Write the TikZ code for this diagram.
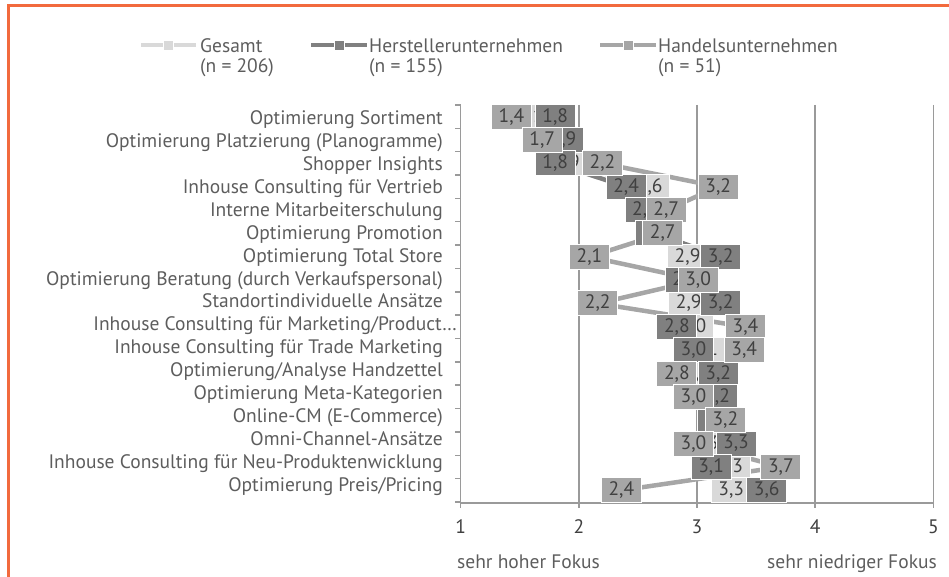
\documentclass[tikz,border=0pt]{standalone}
\usepackage{fontspec}
\setmainfont{PT Sans}
\usetikzlibrary{positioning}

\definecolor{gesamtgray}{HTML}{D9D9D9}
\definecolor{herstgray}{HTML}{808080}
\definecolor{handelgray}{HTML}{A6A6A6}
\definecolor{axisgray}{HTML}{9A9A9A}
\definecolor{textgray}{HTML}{404040}
\definecolor{frameorange}{HTML}{F26A3D}

% Zeile / Gesamt / Hersteller / Handel
\newcommand{\fokusdata}{1/1.72/1.80/1.43, 2/1.80/1.87/1.69, 3/1.90/1.80/2.20,
  4/2.60/2.40/3.18, 5/2.70/2.56/2.74, 6/2.70/2.65/2.71, 7/2.92/3.20/2.09,
  8/2.98/2.90/3.01, 9/2.93/3.20/2.16, 10/2.97/2.83/3.41, 11/3.07/2.97/3.40,
  12/3.00/3.18/2.83, 13/3.10/3.17/2.97, 14/3.20/3.17/3.24, 15/3.20/3.33/2.97,
  16/3.28/3.12/3.71, 17/3.29/3.59/2.36}

\tikzset{
  chartfont/.style={font=\fontsize{19.5}{22}\selectfont},
  vlabel/.style={chartfont, draw=white, line width=1pt, minimum width=40pt,
    minimum height=25pt, inner sep=0pt, text=textgray},
  sline/.style={line width=4.5pt, line join=round},
  axisline/.style={axisgray, line width=1.5pt},
  catlabel/.style={chartfont, text=textgray!85, anchor=base east, inner sep=0pt},
  legtext/.style={chartfont, text=textgray!85, anchor=base west, inner sep=0pt},
  legmark/.style={draw=white, line width=0.8pt, minimum size=10pt, inner sep=0pt}
}
\pgfkeys{/pgf/number format/.cd, fixed, fixed zerofill, precision=1, use comma,
  assume math mode=true}

\begin{document}
\begin{tikzpicture}[x=1pt, y=-1pt]
\useasboundingbox (0,0) rectangle (949,577);
% Rahmen
\draw[frameorange, line width=3pt] (949,5.5) -- (8.5,5.5) -- (8.5,577);

% Legende
\draw[sline, gesamtgray] (141,45) -- (196,45);
\node[legmark, fill=gesamtgray] (gmark) at (168.5,45) {};
\node[legtext] (gesamt) at (200,52.7) {Gesamt};
\node[legtext] (gesamtn) at ([yshift=-20pt]gesamt.base west) {(n = 206)};
\draw[sline, herstgray] (311,45) -- (367,45);
\node[legmark, fill=herstgray] (hmark) at (339,45) {};
\node[legtext] (herst) at (369,52.7) {Herstellerunternehmen};
\node[legtext] (herstn) at ([yshift=-20pt]herst.base west) {(n = 155)};
\draw[sline, handelgray] (600,45) -- (656,45);
\node[legmark, fill=handelgray] (dmark) at (628,45) {};
\node[legtext] (handel) at (658,52.7) {Handelsunternehmen};
\node[legtext] (handeln) at ([yshift=-20pt]handel.base west) {(n = 51)};

% Achsen und Gitter
\foreach \v in {2,...,5}
  \draw[axisline] ({460.7+(\v-1)*118.15},105) -- ({460.7+(\v-1)*118.15},503);
\draw[axisline] (460.7,105) -- (460.7,503) -- (933.3,503);
\foreach \k in {0,...,17}
  \draw[axisline] (455,{105+\k*23.35}) -- (460.7,{105+\k*23.35});
\foreach \v in {1,...,5} {
  \draw[axisline] ({460.7+(\v-1)*118.15},503) -- ({460.7+(\v-1)*118.15},508);
  \node[chartfont, text=textgray, anchor=base, inner sep=0pt] (tick\v)
    at ({460.7+(\v-1)*118.15},533) {\v};
}
\node[legtext] (hoch) at (457,568) {sehr hoher Fokus};
\node[catlabel] (niedrig) at (937,568) {sehr niedriger Fokus};

% Kategorien
\foreach \name/\xr [count=\i] in {Optimierung Sortiment/443,
  Optimierung Platzierung (Planogramme)/443, Shopper Insights/443,
  Inhouse Consulting für Vertrieb/443, Interne Mitarbeiterschulung/443,
  Optimierung Promotion/443, Optimierung Total Store/443,
  Optimierung Beratung (durch Verkaufspersonal)/443,
  Standortindividuelle Ansätze/443,
  {Inhouse Consulting für Marketing/Product…}/457,
  Inhouse Consulting für Trade Marketing/443,
  {Optimierung/Analyse Handzettel}/443, Optimierung Meta-Kategorien/443,
  Online-CM (E-Commerce)/443, Omni-Channel-Ansätze/443,
  Inhouse Consulting für Neu-Produktenwicklung/443,
  {Optimierung Preis/Pricing}/443}
  \node[catlabel] (cat\i) at (\xr,{124.3+(\i-1)*22.96}) {\name};

% Datenpunkte
\foreach \i/\g/\h/\d in \fokusdata {
  \coordinate (g\i) at ({460.7+(\g-1)*118.15},{105+(\i-0.5)*23.35});
  \coordinate (h\i) at ({460.7+(\h-1)*118.15},{105+(\i-0.5)*23.35});
  \coordinate (d\i) at ({460.7+(\d-1)*118.15},{105+(\i-0.5)*23.35});
}
\draw[sline, gesamtgray] (g1) \foreach \i in {2,...,17} { -- (g\i) };
\draw[sline, herstgray] (h1) \foreach \i in {2,...,17} { -- (h\i) };
\draw[sline, handelgray] (d1) \foreach \i in {2,...,17} { -- (d\i) };
\foreach \i/\g/\h/\d in \fokusdata
  \node[vlabel, fill=gesamtgray] (gl\i) at (g\i) {\pgfmathprintnumber{\g}};
\foreach \i/\g/\h/\d in \fokusdata
  \node[vlabel, fill=herstgray] (hl\i) at (h\i) {\pgfmathprintnumber{\h}};
\foreach \i/\g/\h/\d in \fokusdata
  \node[vlabel, fill=handelgray] (dl\i) at (d\i) {\pgfmathprintnumber{\d}};
\end{tikzpicture}
\end{document}
